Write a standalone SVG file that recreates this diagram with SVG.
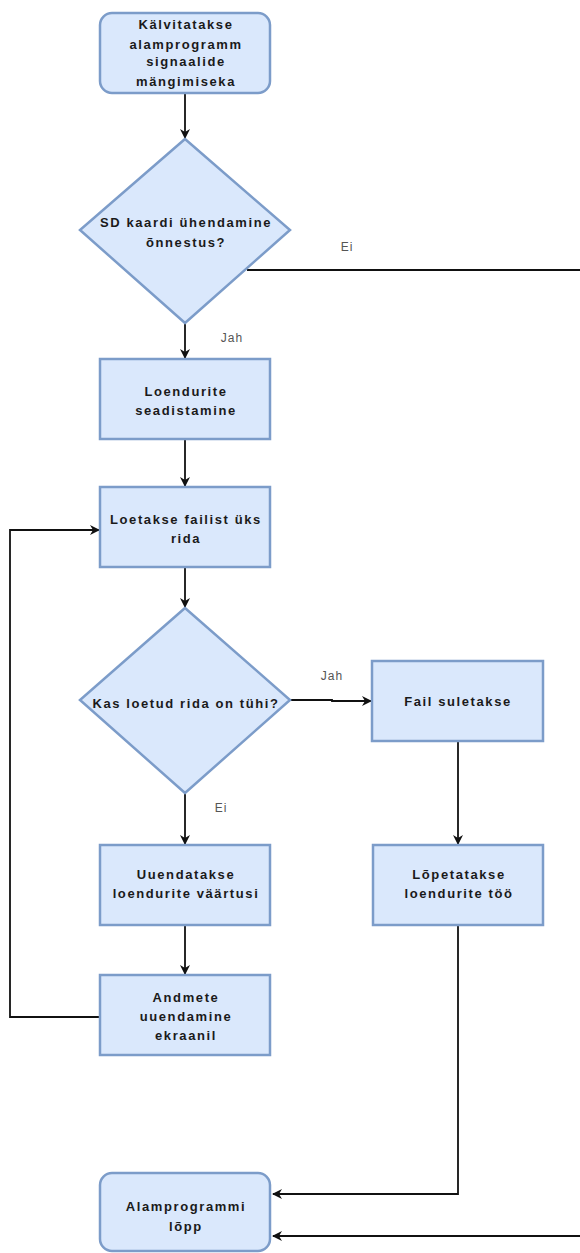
<svg xmlns="http://www.w3.org/2000/svg" width="580" height="1253" viewBox="0 0 580 1253">
<style>
.n{fill:#dae8fc;stroke:#7c9cc9;stroke-width:2.5}
.t{font-family:"Liberation Sans",Arial,sans-serif;font-weight:bold;font-size:13px;letter-spacing:1.6px;fill:#1a1a1a;text-anchor:middle}
.l{font-family:"Liberation Sans",Arial,sans-serif;font-size:12px;letter-spacing:1px;fill:#555;text-anchor:middle}
.c{fill:none;stroke:#111;stroke-width:1.8}
</style>
<defs>
<marker id="a" viewBox="0 0 10 10" refX="9" refY="5" markerWidth="10" markerHeight="10" markerUnits="userSpaceOnUse" orient="auto">
<path d="M0,0 L10,5 L0,10 L3,5 Z" fill="#111"/>
</marker>
</defs>
<g id="connectors">
<path class="c" d="M185,94 V138" marker-end="url(#a)"/>
<path class="c" d="M247,270 H590 V1236 H273" marker-end="url(#a)"/>
<path class="c" d="M185,323 V358" marker-end="url(#a)"/>
<path class="c" d="M185,439 V486" marker-end="url(#a)"/>
<path class="c" d="M185,567 V607" marker-end="url(#a)"/>
<path class="c" d="M290,700 H332 V701 H371" marker-end="url(#a)"/>
<path class="c" d="M185,793 V844" marker-end="url(#a)"/>
<path class="c" d="M185,926 V974" marker-end="url(#a)"/>
<path class="c" d="M100,1017 H10 V530 H99" marker-end="url(#a)"/>
<path class="c" d="M458,742 V844" marker-end="url(#a)"/>
<path class="c" d="M458,926 V1194 H273" marker-end="url(#a)"/>
<text class="l" x="347" y="251">Ei</text>
<text class="l" x="232" y="342">Jah</text>
<text class="l" x="332" y="680">Jah</text>
<text class="l" x="221" y="812">Ei</text>
</g>
<g id="start">
<rect class="n" x="100" y="13" width="170" height="80" rx="12"/>
<text class="t" x="186" y="29">Kälvitatakse</text>
<text class="t" x="186" y="49">alamprogramm</text>
<text class="t" x="186" y="66">signaalide</text>
<text class="t" x="186" y="86">mängimiseka</text>
</g>
<g id="d1">
<polygon class="n" points="185,139 290,230 185,323 80,230"/>
<text class="t" x="186" y="227">SD kaardi ühendamine</text>
<text class="t" x="186" y="247">õnnestus?</text>
</g>
<g id="b1">
<rect class="n" x="100" y="359" width="170" height="80"/>
<text class="t" x="186" y="396">Loendurite</text>
<text class="t" x="186" y="415">seadistamine</text>
</g>
<g id="b2">
<rect class="n" x="100" y="487" width="170" height="80"/>
<text class="t" x="186" y="524">Loetakse failist üks</text>
<text class="t" x="186" y="543">rida</text>
</g>
<g id="d2">
<polygon class="n" points="185,608 290,700 185,793 80,700"/>
<text class="t" x="186" y="708">Kas loetud rida on tühi?</text>
</g>
<g id="b3">
<rect class="n" x="372" y="661" width="171" height="80"/>
<text class="t" x="458" y="706">Fail suletakse</text>
</g>
<g id="b4">
<rect class="n" x="100" y="845" width="170" height="80"/>
<text class="t" x="186" y="879">Uuendatakse</text>
<text class="t" x="186" y="898">loendurite väärtusi</text>
</g>
<g id="b5">
<rect class="n" x="373" y="845" width="170" height="80"/>
<text class="t" x="459" y="879">Lõpetatakse</text>
<text class="t" x="459" y="898">loendurite töö</text>
</g>
<g id="b6">
<rect class="n" x="100" y="975" width="170" height="80"/>
<text class="t" x="186" y="1002">Andmete</text>
<text class="t" x="186" y="1021">uuendamine</text>
<text class="t" x="186" y="1040">ekraanil</text>
</g>
<g id="end">
<rect class="n" x="100" y="1173" width="170" height="78" rx="12"/>
<text class="t" x="186" y="1211">Alamprogrammi</text>
<text class="t" x="186" y="1231">lõpp</text>
</g>
</svg>
